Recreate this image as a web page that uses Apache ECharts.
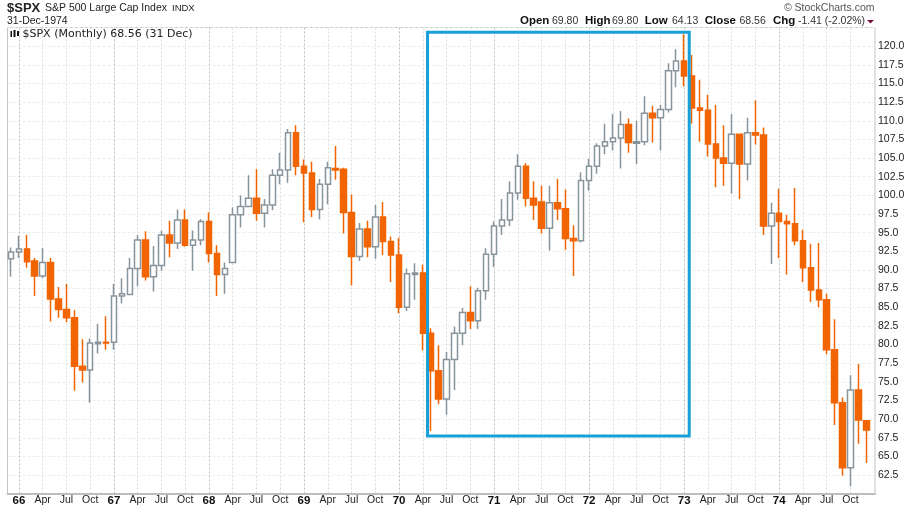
<!DOCTYPE html>
<html>
<head>
<meta charset="utf-8">
<title>$SPX</title>
<script src="https://cdn.jsdelivr.net/npm/echarts@6/dist/echarts.min.js"></script>
<style>
html, body { margin: 0; padding: 0; background: #fff; }
#chart { width: 909px; height: 509px; }
</style>
</head>
<body>
<div id="chart"></div>
<script>
// monthly candles, Dec 1965 (index 0) to Dec 1974
const opens = [91.5,92.4,92.8,91.2,89.2,91.0,86.1,84.7,83.6,77.1,76.6,80.1,80.3,80.3,86.5,86.7,90.2,94.0,89.1,90.6,94.7,93.6,96.7,93.3,94.0,96.5,92.2,
  89.4,91.0,97.4,98.5,99.6,97.6,98.7,102.7,103.4,108.4,103.9,103.0,98.1,101.5,103.6,103.5,97.7,91.8,95.5,93.1,97.1,93.8,92.0,85.0,89.4,89.6,
  81.5,76.5,72.7,78.0,81.5,84.3,83.2,87.2,92.1,95.9,96.7,100.3,103.9,99.6,99.1,95.6,99.0,98.2,94.2,93.9,102.0,103.9,106.6,107.2,107.7,109.5,107.0,107.2,111.0,110.4,111.5,116.7,
  118.0,116.0,111.7,111.4,106.9,105.0,104.3,108.2,104.2,108.4,108.1,95.9,97.6,96.5,96.2,93.9,90.3,87.3,86.0,79.3,72.2,63.5,73.9,69.8];
const closes = [92.4,92.8,91.1,89.2,91.0,86.1,84.7,83.6,77.1,76.6,80.2,80.3,80.2,86.5,86.8,90.2,94.0,89.1,90.6,94.7,93.6,96.7,93.3,94.0,96.5,92.2,89.4,
  90.2,97.4,98.5,99.6,97.6,98.7,102.7,103.4,108.4,103.9,103.0,98.1,101.5,103.7,103.4,97.7,91.8,95.5,93.1,97.1,93.8,92.0,85.0,89.5,89.6,81.5,
  76.5,72.7,78.0,81.5,84.3,83.2,87.2,92.1,95.9,96.7,100.3,103.9,99.6,98.7,95.6,99.0,98.2,94.2,93.9,102.0,103.9,106.6,107.2,107.7,109.5,107.1,107.2,111.0,110.4,111.5,116.7,118.0,
  116.0,111.7,111.4,106.9,105.0,104.3,108.2,104.2,108.4,108.1,95.9,97.6,96.5,96.2,93.9,90.3,87.3,86.0,79.3,72.2,63.5,73.9,69.9,68.56];
const lows = [89.1,91.6,90.3,86.5,88.9,83.1,83.6,83.0,73.8,74.9,72.2,78.8,79.3,79.3,85.5,86.6,87.8,88.6,87.1,89.9,91.7,92.8,93.1,89.9,93.3,91.0,86.5,
  86.8,90.9,95.7,98.4,96.6,95.7,98.0,101.5,101.7,102.7,96.4,97.1,96.8,98.8,102.1,94.9,87.9,91.2,91.7,91.5,92.0,88.4,84.2,84.5,86.0,79.2,
  68.4,72.0,70.6,73.9,79.9,82.1,82.1,86.0,90.4,94.7,95.9,99.4,98.5,96.7,94.9,92.6,96.7,92.7,89.2,93.7,100.6,102.9,105.5,106.0,103.6,105.7,104.2,106.7,107.1,106.0,111.1,114.5,
  114.6,109.6,107.2,105.2,101.1,101.3,100.2,99.5,102.0,106.8,94.7,90.8,91.6,89.4,93.3,88.4,85.7,85.0,78.7,69.2,62.4,61.0,66.7,64.13];
const highs = [93.0,94.6,94.7,91.6,92.9,91.6,87.7,88.1,84.6,80.7,80.8,82.8,83.8,88.1,88.9,91.6,94.7,95.2,93.2,95.3,96.6,98.1,98.1,95.3,96.8,97.7,93.3,
  91.0,98.4,100.0,102.7,103.5,99.5,103.5,105.7,108.9,109.4,104.8,104.5,102.2,104.5,106.6,103.7,100.1,96.3,96.6,98.7,99.1,94.5,94.3,90.2,90.9,90.7,
  82.2,79.9,79.0,82.4,84.9,87.8,87.6,92.9,96.5,99.5,101.9,105.5,104.3,101.9,101.3,101.3,102.2,100.8,96.0,103.1,104.9,107.0,109.6,110.9,111.3,110.3,110.0,113.3,112.0,112.1,117.7,119.6,
  121.6,118.8,115.5,113.5,112.1,109.4,110.9,108.2,110.4,112.7,109.1,99.0,100.9,97.4,101.0,95.4,93.5,93.6,86.8,83.4,72.9,75.9,77.4,69.8];

// x ticks, as candle index
const quarterTicks = [1,4,7,10,13,16,19,22,25,28,31,34,37,40,43,46,49,52,55,58,61,64,67,70,73,76,79,82,85,88,91,94,97,100,103,106];
const quarterLabels = ['66','Apr','Jul','Oct','67','Apr','Jul','Oct','68','Apr','Jul','Oct','69','Apr','Jul','Oct','70','Apr','Jul','Oct',
  '71','Apr','Jul','Oct','72','Apr','Jul','Oct','73','Apr','Jul','Oct','74','Apr','Jul','Oct'];
const yearTicks = [1,13,25,37,49,61,73,85,97];

// highlighted box, in axis units
const boxX = [52.6, 85.64];
const boxY = [121.86, 67.74];

const candleData = opens.map(function (o, i) { return [i, o, closes[i], lows[i], highs[i]]; });

const FONT = '"Liberation Sans", Arial, sans-serif';

function txt(text, x, y, font, fill, align) {
    return { type: 'text', silent: true, z: 20, style: { text: text, x: x, y: y, font: font, fill: fill || '#222', textAlign: align || 'left', textVerticalAlign: 'middle' } };
}

const chart = echarts.init(document.getElementById('chart'), null, { renderer: 'canvas' });

chart.setOption({
    animation: false,
    backgroundColor: '#fff',
    grid: { left: 7.5, right: 34, top: 27.5, bottom: 15.25, show: true, borderColor: '#c4c4c4', borderWidth: 1, backgroundColor: 'transparent' },
    xAxis: [{
        type: 'value', min: -0.44, max: 109.1, position: 'bottom',
        axisLine: { show: true, onZero: false, lineStyle: { color: '#bdbdbd', width: 2 } },
        axisTick: { show: false, customValues: quarterTicks },
        axisLabel: {
            customValues: quarterTicks, margin: 1, color: '#222', fontFamily: FONT, fontSize: 10.5,
            formatter: function (v) {
                const s = quarterLabels[quarterTicks.indexOf(v)];
                return /\d/.test(s) ? '{y|' + s + '}' : s;
            },
            rich: { y: { fontFamily: FONT, fontWeight: 'bold', fontSize: 11.5, color: '#111' } }
        },
        splitLine: { show: true, lineStyle: { color: '#dcdcdc', type: [2, 2], width: 1 } }
    }, {
        // darker lines at the start of each year
        type: 'value', min: -0.44, max: 109.1, position: 'top',
        axisLine: { show: false },
        axisTick: { show: false, customValues: yearTicks },
        axisLabel: { show: false, customValues: yearTicks },
        splitLine: { show: true, lineStyle: { color: '#c4c4c4', type: [2, 2], width: 1 } }
    }],
    yAxis: {
        type: 'value', min: 60, max: 122.5, interval: 2.5, position: 'right', scale: true,
        axisLine: { show: false },
        axisTick: { show: false },
        axisLabel: {
            margin: 3, color: '#222', fontFamily: FONT, fontSize: 10.5, showMinLabel: false, showMaxLabel: false,
            formatter: function (v) { return v.toFixed(1); }
        },
        splitLine: { show: true, lineStyle: { color: '#ececec', type: [3, 2], width: 1 } }
    },
    series: [{
        type: 'candlestick',
        name: '$SPX',
        data: candleData,
        encode: { x: 0, y: [1, 2, 3, 4] },
        barWidth: 6,
        silent: true,
        itemStyle: { color: '#fff', color0: '#f26400', borderColor: '#87949b', borderColor0: '#f26400', borderColorDoji: '#87949b', borderWidth: 1.5 },
        markArea: {
            silent: true, z: 5,
            itemStyle: { color: 'rgba(0,0,0,0)', borderColor: '#169fd8', borderWidth: 3 },
            data: [[{ xAxis: boxX[0], yAxis: boxY[0] }, { xAxis: boxX[1], yAxis: boxY[1] }]]
        }
    }],
    graphic: [
        txt('$SPX', 7, 8.5, 'bold 13px ' + FONT, '#222'),
        txt('S&P 500 Large Cap Index', 45, 8.5, '10.5px ' + FONT, '#222'),
        txt('INDX', 172, 8.5, '9.5px ' + FONT, '#222'),
        txt('31-Dec-1974', 7, 21.5, '10.5px ' + FONT, '#222'),
        txt('\u00a9 StockCharts.com', 874.5, 8.5, '10.5px ' + FONT, '#555', 'right'),
        txt('Open', 520, 21, 'bold 11.5px ' + FONT, '#111'),
        txt('69.80', 552, 21, '10.5px ' + FONT, '#333'),
        txt('High', 585, 21, 'bold 11.5px ' + FONT, '#111'),
        txt('69.80', 612, 21, '10.5px ' + FONT, '#333'),
        txt('Low', 644.7, 21, 'bold 11.5px ' + FONT, '#111'),
        txt('64.13', 672, 21, '10.5px ' + FONT, '#333'),
        txt('Close', 704.7, 21, 'bold 11.5px ' + FONT, '#111'),
        txt('68.56', 739.5, 21, '10.5px ' + FONT, '#333'),
        txt('Chg', 773, 21, 'bold 11.5px ' + FONT, '#111'),
        txt('-1.41 (-2.02%)', 798, 21, '10.5px ' + FONT, '#333'),
        { type: 'polygon', silent: true, z: 20, shape: { points: [[867, 20], [874, 20], [870.5, 23.5]] }, style: { fill: '#7a1040' } },
        // legend
        txt('$SPX (Monthly) 68.56 (31 Dec)', 22.5, 34.5, '11px "DejaVu Sans", sans-serif', '#222'),
        { type: 'rect', silent: true, z: 20, shape: { x: 10.5, y: 31, width: 1.5, height: 6 }, style: { fill: '#111' } },
        { type: 'rect', silent: true, z: 20, shape: { x: 13.5, y: 30, width: 2, height: 7 }, style: { fill: '#111' } },
        { type: 'rect', silent: true, z: 20, shape: { x: 17, y: 31, width: 2, height: 5 }, style: { fill: '#111' } }
    ]
});

window.addEventListener('resize', function () { chart.resize(); });
</script>
</body>
</html>
